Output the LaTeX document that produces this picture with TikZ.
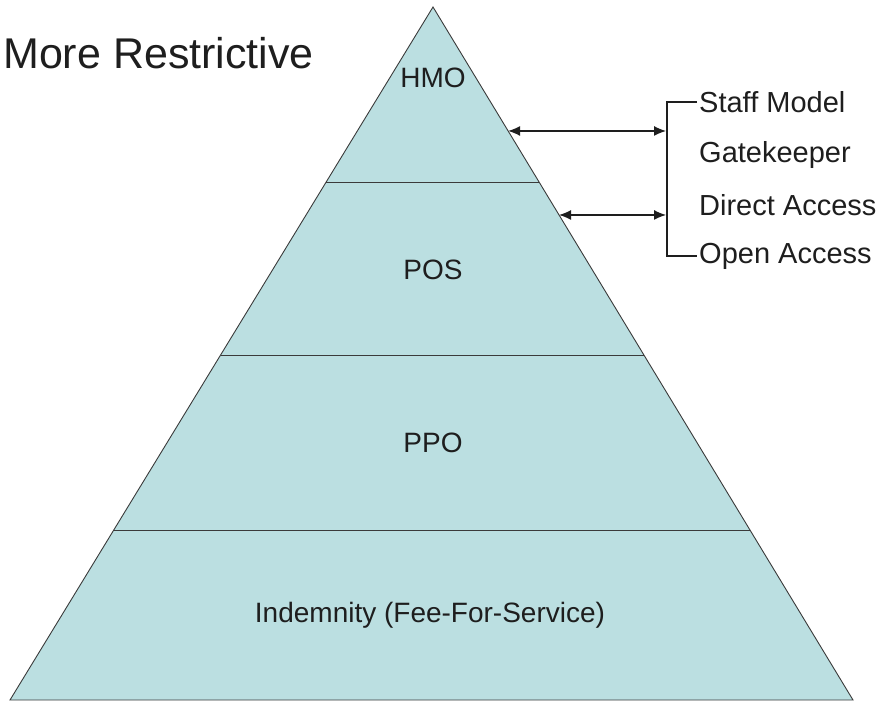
\documentclass[tikz,border=0pt]{standalone}
\usepackage{fontspec}
\setmainfont{Liberation Sans}
\usetikzlibrary{calc,arrows.meta}
\definecolor{tierfill}{HTML}{BBDFE1}
\definecolor{edge}{HTML}{3A3A3A}
\definecolor{ink}{HTML}{1E1E1E}
\begin{document}
\begin{tikzpicture}[x=1pt,y=-1pt,
  tierlabel/.style={font=\fontsize{28}{33}\selectfont, text=ink, inner sep=0pt},
  sidelabel/.style={font=\fontsize{29}{34}\selectfont, text=ink, anchor=west, inner sep=2pt},
  outline/.style={draw=edge, line width=0.9pt},
  bracket/.style={draw=ink, line width=1.2pt},
  pointer/.style={draw=ink, line width=1.2pt,
    {Latex[length=12pt,width=10pt]}-{Latex[length=12pt,width=10pt]}}]
\useasboundingbox (0,0) rectangle (883,702);

% pyramid outline
\coordinate (apex) at (433,7);
\coordinate (bl) at (10,700);
\coordinate (br) at (853,700);
\filldraw[fill=tierfill, outline, line join=miter] (apex) -- (br) -- (bl) -- cycle;

% tier dividers
\foreach \t [count=\i] in {0.2525,0.5022,0.7547} {
  \coordinate (l\i) at ($(apex)!\t!(bl)$);
  \coordinate (r\i) at ($(apex)!\t!(br)$);
  \draw[outline] (l\i) -- (r\i);
}

% tier names
\node[tierlabel] (hmo) at (433,78) {HMO};
\node[tierlabel] (pos) at (433,270) {POS};
\node[tierlabel] (ppo) at (433,443) {PPO};
\node[tierlabel] (ind) at (430,615) {Indemnity (Fee-For-Service)};

% heading
\node[font=\fontsize{43}{50}\selectfont, text=ink, anchor=west, inner sep=0pt]
  (title) at (3,53) {More Restrictive};

% HMO model variants
\node[sidelabel] (staff) at (697,102) {Staff Model};
\node[sidelabel] (gate)  at (697,155) {Gatekeeper};
\node[sidelabel] (direct) at (697,205) {Direct Access};
\node[sidelabel] (open)  at (697,256) {Open Access};

\coordinate (bx) at (667,0);
\draw[bracket] (staff.west) -- (staff.west -| bx) -- (open.west -| bx) -- (open.west);

% links from the pyramid to the bracket
\coordinate (hmoedge) at ($(apex)!0.1789!(br)$);
\coordinate (posedge) at ($(apex)!0.3001!(br)$);
\draw[pointer] (hmoedge) -- ([xshift=-1pt]hmoedge -| bx);
\draw[pointer] (posedge) -- ([xshift=-1pt]posedge -| bx);
\end{tikzpicture}
\end{document}
